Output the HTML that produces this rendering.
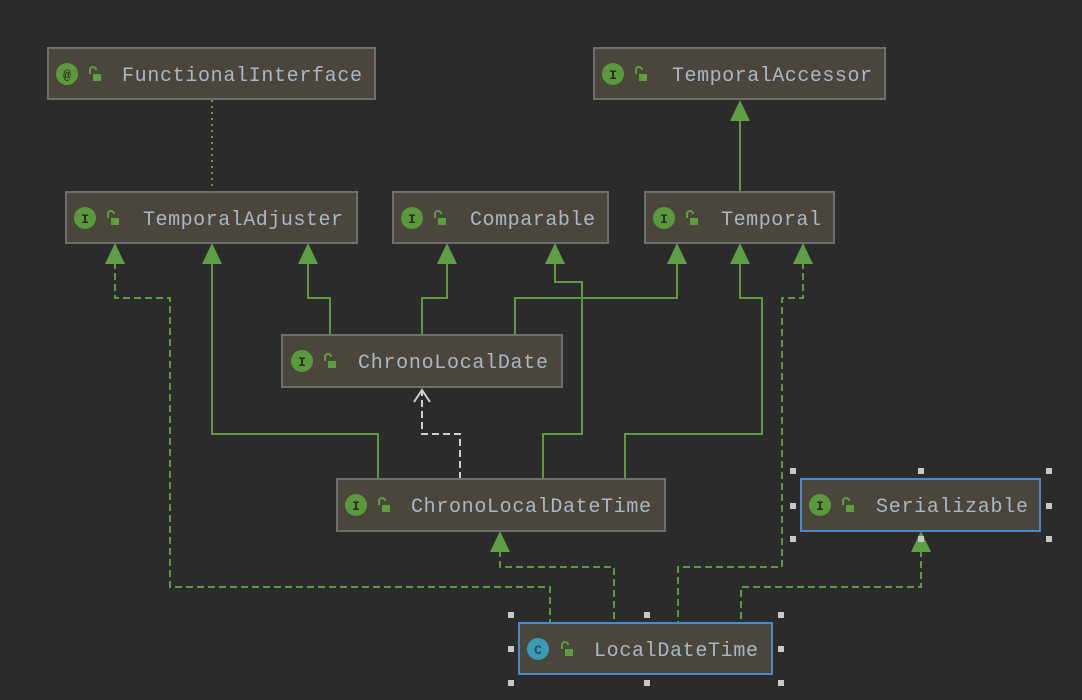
<!DOCTYPE html>
<html><head><meta charset="utf-8"><style>
html,body{margin:0;padding:0;background:#2b2b2b;width:1082px;height:700px;overflow:hidden}
text{font-family:"Liberation Mono","DejaVu Sans Mono",monospace}
</style></head><body>
<svg width="1082" height="700" viewBox="0 0 1082 700" xmlns="http://www.w3.org/2000/svg">
<defs>
<g id="lock"><path d="M-4,-2 v-4 a3,3 0 0 1 6,0" fill="none" stroke="#5f9e3f" stroke-width="2"/><rect x="-1" y="-2" width="8" height="7" fill="#5f9e3f"/></g>
</defs>
<rect width="1082" height="700" fill="#2b2b2b"/>
<g fill="none" stroke="#5b9a3e" stroke-width="2">
<path d="M740,192 V120"/>
<path d="M212,262 V434 H378 V479"/>
<path d="M308,262 V298 H330 V335"/>
<path d="M447,262 V298 H422 V335"/>
<path d="M555,262 V282 H582 V434 H543 V479"/>
<path d="M677,262 V298 H515 V335"/>
<path d="M740,262 V298 H762 V434 H625 V479"/>
</g>
<g fill="none" stroke="#5b9a3e" stroke-width="2" stroke-dasharray="7,4">
<path d="M115,262 V298 H170 V587 H550 V623"/>
<path d="M803,262 V298 H782 V567 H678 V623"/>
<path d="M500,550 V567 H614 V623"/>
<path d="M921,550 V587 H741 V623"/>
</g>
<path d="M212,100 V188" stroke="#8a8a2a" stroke-width="2" stroke-dasharray="2,4"/>
<path d="M460,479 V434 H422 V390" fill="none" stroke="#cfcfcf" stroke-width="2" stroke-dasharray="7,4"/>
<path d="M414,402 L422,390 L430,402" fill="none" stroke="#cfcfcf" stroke-width="2"/>
<g fill="#5f9e45">
<path d="M740,100 l-10,21 h20z"/>
<path d="M115,243 l-10,21 h20z"/><path d="M212,243 l-10,21 h20z"/><path d="M308,243 l-10,21 h20z"/>
<path d="M447,243 l-10,21 h20z"/><path d="M555,243 l-10,21 h20z"/>
<path d="M677,243 l-10,21 h20z"/><path d="M740,243 l-10,21 h20z"/><path d="M803,243 l-10,21 h20z"/>
<path d="M500,531 l-10,21 h20z"/><path d="M921,531 l-10,21 h20z"/>
</g>
<g font-size="20" fill="#a9b7c6">
<g><rect x="48" y="48" width="327" height="51" fill="#4b463c" stroke="#6e6e6e" stroke-width="2"/>
<circle cx="67" cy="74" r="11" fill="#5a9a3c"/><text x="67" y="79" font-size="13" fill="#2b2b2b" text-anchor="middle" font-weight="bold">@</text>
<use href="#lock" x="94" y="76"/><text x="122" y="81" textLength="240">FunctionalInterface</text></g>
<g><rect x="594" y="48" width="291" height="51" fill="#4b463c" stroke="#6e6e6e" stroke-width="2"/>
<circle cx="613" cy="74" r="11" fill="#5a9a3c"/><text x="613" y="79" font-size="13" fill="#2b2b2b" text-anchor="middle" font-weight="bold">I</text>
<use href="#lock" x="640" y="76"/><text x="672" y="81" textLength="200">TemporalAccessor</text></g>
<g><rect x="66" y="192" width="291" height="51" fill="#4b463c" stroke="#6e6e6e" stroke-width="2"/>
<circle cx="85" cy="218" r="11" fill="#5a9a3c"/><text x="85" y="223" font-size="13" fill="#2b2b2b" text-anchor="middle" font-weight="bold">I</text>
<use href="#lock" x="112" y="220"/><text x="143" y="225" textLength="200">TemporalAdjuster</text></g>
<g><rect x="393" y="192" width="215" height="51" fill="#4b463c" stroke="#6e6e6e" stroke-width="2"/>
<circle cx="412" cy="218" r="11" fill="#5a9a3c"/><text x="412" y="223" font-size="13" fill="#2b2b2b" text-anchor="middle" font-weight="bold">I</text>
<use href="#lock" x="439" y="220"/><text x="470" y="225" textLength="125">Comparable</text></g>
<g><rect x="645" y="192" width="189" height="51" fill="#4b463c" stroke="#6e6e6e" stroke-width="2"/>
<circle cx="664" cy="218" r="11" fill="#5a9a3c"/><text x="664" y="223" font-size="13" fill="#2b2b2b" text-anchor="middle" font-weight="bold">I</text>
<use href="#lock" x="691" y="220"/><text x="721" y="225" textLength="100">Temporal</text></g>
<g><rect x="282" y="335" width="280" height="52" fill="#4b463c" stroke="#6e6e6e" stroke-width="2"/>
<circle cx="302" cy="361" r="11" fill="#5a9a3c"/><text x="302" y="366" font-size="13" fill="#2b2b2b" text-anchor="middle" font-weight="bold">I</text>
<use href="#lock" x="329" y="363"/><text x="358" y="368" textLength="190">ChronoLocalDate</text></g>
<g><rect x="337" y="479" width="328" height="52" fill="#4b463c" stroke="#6e6e6e" stroke-width="2"/>
<circle cx="356" cy="505" r="11" fill="#5a9a3c"/><text x="356" y="510" font-size="13" fill="#2b2b2b" text-anchor="middle" font-weight="bold">I</text>
<use href="#lock" x="383" y="507"/><text x="411" y="512" textLength="240">ChronoLocalDateTime</text></g>
<g><rect x="801" y="479" width="239" height="52" fill="#4b463c" stroke="#4a88c7" stroke-width="2"/>
<circle cx="820" cy="505" r="11" fill="#5a9a3c"/><text x="820" y="510" font-size="13" fill="#2b2b2b" text-anchor="middle" font-weight="bold">I</text>
<use href="#lock" x="847" y="507"/><text x="876" y="512" textLength="152">Serializable</text></g>
<g><rect x="519" y="623" width="253" height="51" fill="#4b463c" stroke="#4a88c7" stroke-width="2"/>
<circle cx="538" cy="649" r="11" fill="#3b9bb5"/><text x="538" y="654" font-size="13" fill="#1f4f5f" text-anchor="middle" font-weight="bold">C</text>
<use href="#lock" x="566" y="651"/><text x="594" y="656" textLength="164">LocalDateTime</text></g>
</g>
<g fill="#c8c8c8">
<rect x="790" y="468" width="6" height="6"/><rect x="918" y="468" width="6" height="6"/><rect x="1046" y="468" width="6" height="6"/>
<rect x="790" y="503" width="6" height="6"/><rect x="1046" y="503" width="6" height="6"/>
<rect x="790" y="536" width="6" height="6"/><rect x="918" y="536" width="6" height="6"/><rect x="1046" y="536" width="6" height="6"/>
<rect x="508" y="612" width="6" height="6"/><rect x="644" y="612" width="6" height="6"/><rect x="778" y="612" width="6" height="6"/>
<rect x="508" y="646" width="6" height="6"/><rect x="778" y="646" width="6" height="6"/>
<rect x="508" y="680" width="6" height="6"/><rect x="644" y="680" width="6" height="6"/><rect x="778" y="680" width="6" height="6"/>
</g>
</svg>
</body></html>
